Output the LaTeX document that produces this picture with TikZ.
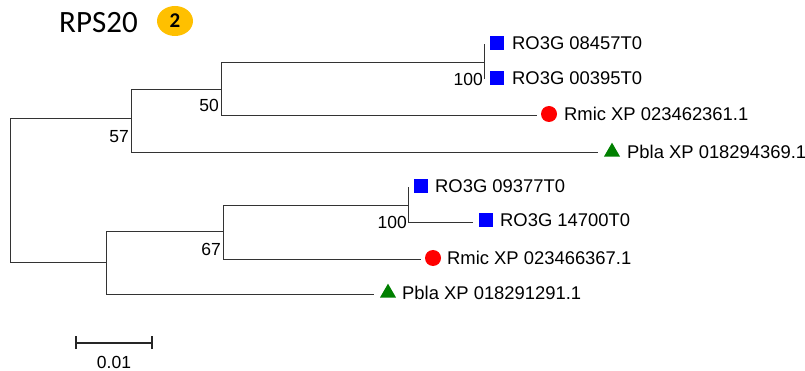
\documentclass[tikz,border=0pt]{standalone}
\usepackage{fontspec}
\setmainfont{Liberation Sans}
\newfontfamily\calibri{Carlito}
\usetikzlibrary{shapes.geometric}
\definecolor{mblue}{RGB}{0,0,255}
\definecolor{mred}{RGB}{255,0,0}
\definecolor{mgreen}{RGB}{0,128,0}
\definecolor{myellow}{RGB}{255,192,0}
\begin{document}
\begin{tikzpicture}[x=1pt,y=-1pt,
  branch/.style={draw=black!80, line width=0.8pt},
  leaflab/.style={anchor=base west, inner sep=0pt, font=\fontsize{18.4}{20}\selectfont},
  supp/.style={anchor=base east, inner sep=0pt, font=\fontsize{17.5}{20}\selectfont},
  sqmark/.style={fill=mblue, inner sep=0pt, minimum size=14pt, rectangle},
  cimark/.style={fill=mred, inner sep=0pt, minimum size=16pt, circle},
  trmark/.style={fill=mgreen, inner sep=0pt, isosceles triangle, shape border rotate=90, isosceles triangle apex angle=60, minimum height=14pt, minimum width=16pt}]
\useasboundingbox (0,0) rectangle (805,371);
% internal nodes
\coordinate (root) at (10,190);
\coordinate (A) at (131,118);
\coordinate (B) at (221,89);
\coordinate (C) at (484,62);
\coordinate (D) at (106,262);
\coordinate (E) at (223,231);
\coordinate (F) at (408,205);
% leaf ends
\coordinate (l1) at (484,44);
\coordinate (l2) at (484,79);
\coordinate (l3) at (537,115);
\coordinate (l4) at (598,152);
\coordinate (l5) at (408,187);
\coordinate (l6) at (473,222);
\coordinate (l7) at (421,259);
\coordinate (l8) at (374,294);
% branches
\draw[branch] (root) |- (A);
\draw[branch] (root) |- (D);
\draw[branch] (A) |- (B);
\draw[branch] (A) |- (l4);
\draw[branch] (B) |- (C);
\draw[branch] (B) |- (l3);
\draw[branch] (C) |- (l1);
\draw[branch] (C) |- (l2);
\draw[branch] (D) |- (E);
\draw[branch] (D) |- (l8);
\draw[branch] (E) |- (F);
\draw[branch] (E) |- (l7);
\draw[branch] (F) |- (l5);
\draw[branch] (F) |- (l6);
% markers
\node[sqmark] (m1) at (497,43) {};
\node[sqmark] (m2) at (497,78) {};
\node[cimark] (m3) at (549,114) {};
\node[trmark] (m4) at (612,152) {};
\node[sqmark] (m5) at (421,186) {};
\node[sqmark] (m6) at (486,220) {};
\node[cimark] (m7) at (433,258) {};
\node[trmark] (m8) at (388,293) {};
% leaf labels
\node[leaflab] (t1) at (512,49.5) {RO3G 08457T0};
\node[leaflab] (t2) at (512,84.5) {RO3G 00395T0};
\node[leaflab] (t3) at (564,120.5) {Rmic XP 023462361.1};
\node[leaflab] (t4) at (627,158.5) {Pbla XP 018294369.1};
\node[leaflab] (t5) at (435,192.5) {RO3G 09377T0};
\node[leaflab] (t6) at (500,226.5) {RO3G 14700T0};
\node[leaflab] (t7) at (447,264.5) {Rmic XP 023466367.1};
\node[leaflab] (t8) at (402,299.5) {Pbla XP 018291291.1};
% support values
\node[supp] (s1) at (483,85.5) {100};
\node[supp] (s2) at (219,112) {50};
\node[supp] (s3) at (129,142.5) {57};
\node[supp] (s4) at (221,255.5) {67};
\node[supp] (s5) at (407,228.5) {100};
% scale bar
\coordinate (sb1) at (76,343);
\coordinate (sb2) at (152,343);
\draw[line width=2pt, black!85] (sb1) -- (sb2);
\draw[line width=2pt, black!85] ([yshift=-6pt]sb1) -- ([yshift=7pt]sb1);
\draw[line width=2pt, black!85] ([yshift=-6pt]sb2) -- ([yshift=7pt]sb2);
\node[anchor=base, inner sep=0pt, font=\fontsize{17.5}{20}\selectfont] (sbl) at (114,368) {0.01};
% title
\node[anchor=base west, inner sep=0pt, font=\calibri\fontsize{31}{34}\selectfont] (title) at (59,33) {RPS20};
\node[ellipse, fill=myellow, minimum width=36pt, minimum height=30pt, inner sep=0pt, font=\calibri\bfseries\fontsize{21}{24}\selectfont] (badge) at (175,21) {2};
\end{tikzpicture}
\end{document}
